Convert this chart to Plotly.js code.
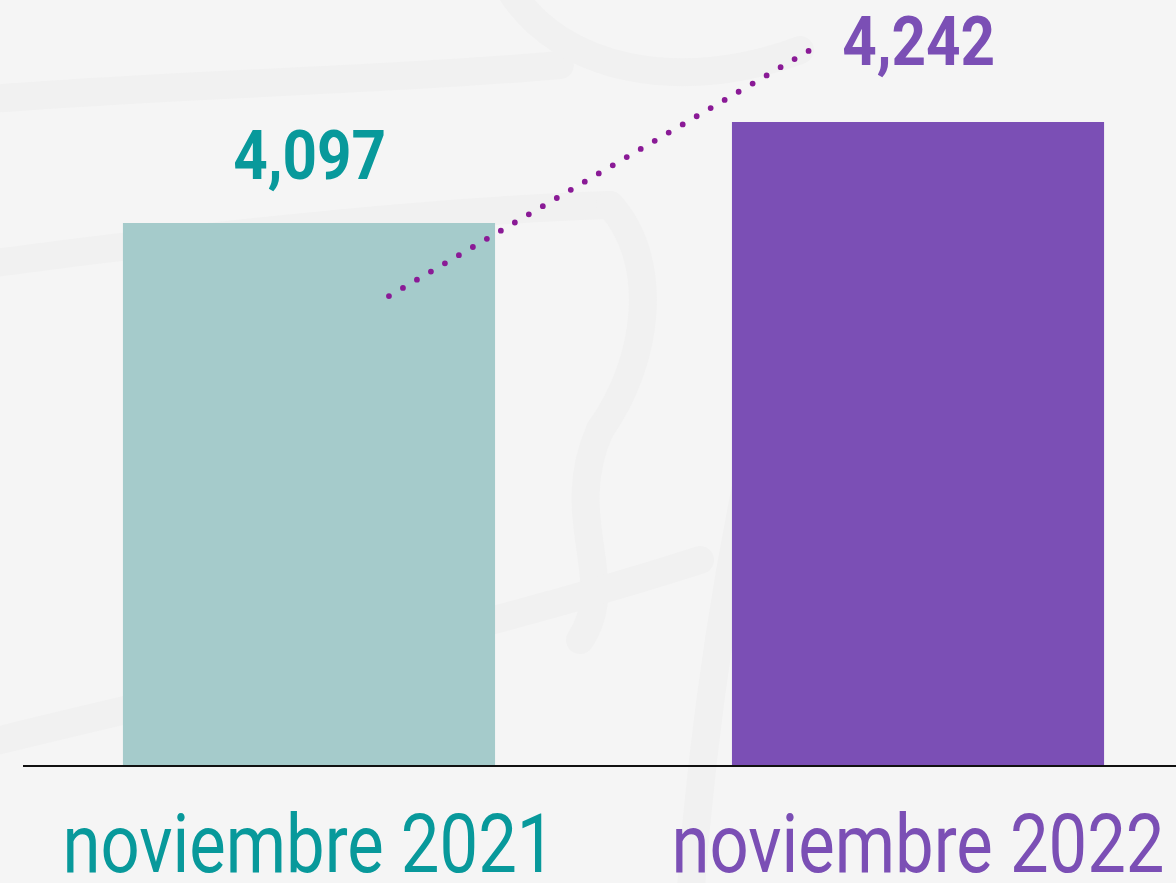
<!DOCTYPE html>
<html>
<head>
<meta charset="utf-8">
<script src="https://cdn.plot.ly/plotly-3.0.1.min.js"></script>
<style>
html,body{margin:0;padding:0;background:#f5f5f5;}
#chart{width:1176px;height:883px;}
.shapelayer path{stroke-linecap:round;}
</style>
</head>
<body>
<div id="chart"></div>
<script>
// ---- data ----
const periods = ["noviembre 2021", "noviembre 2022"];
const values = [4097, 4242];
const barColors = ["#a5cbcb", "#7b4fb5"];
const labelColors = ["#08999b", "#7b4fb5"];

const trace = {
  type: "bar",
  x: periods,
  y: values,
  width: 0.611,
  marker: {color: barColors, line: {width: 0}},
  hoverinfo: "skip"
};

const annotations = values.map((v, i) => ({
  x: periods[i],
  y: v,
  xref: "x",
  yref: "y",
  text: v.toLocaleString("en-US"),
  showarrow: false,
  yanchor: "bottom",
  yshift: i === 0 ? 25 : 38,
  font: {family: "Roboto", size: 69, color: labelColors[i], weight: 700}
}));

// faint decorative background strokes (page coordinates -> paper)
const W = 1153, H = 765, L = 23;
const px = x => ((x - L) / W).toFixed(4);
const py = y => ((H - y) / H).toFixed(4);
function pathFrom(pts) {
  let s = "M" + px(pts[0][0]) + "," + py(pts[0][1]);
  for (let i = 1; i < pts.length; i += 3) {
    s += " C" + [pts[i], pts[i + 1], pts[i + 2]].map(p => px(p[0]) + "," + py(p[1])).join(" ");
  }
  return s;
}
const swirls = [
  [[-20, 100], [150, 85], [400, 80], [560, 65]],
  [[510, -10], [560, 70], [680, 95], [800, 50]],
  [[-20, 265], [200, 235], [450, 210], [610, 205]],
  [[610, 205], [660, 260], [650, 360], [600, 430]],
  [[600, 430], [560, 520], [620, 580], [580, 640]],
  [[-20, 745], [200, 690], [450, 640], [700, 560]],
  [[760, 420], [720, 600], [700, 760], [690, 900]]
];
const bgShapes = swirls.map(p => ({
  type: "path",
  xref: "paper", yref: "paper",
  path: pathFrom(p),
  layer: "below",
  line: {color: "#f1f1f1", width: 28}
}));

const layout = {
  width: 1176,
  height: 883,
  margin: {l: 23, r: 0, t: 0, b: 118},
  paper_bgcolor: "#f5f5f5",
  plot_bgcolor: "rgba(0,0,0,0)",
  showlegend: false,
  bargap: 0.39,
  xaxis: {
    type: "category",
    range: [-0.4696, 1.4236],
    tickmode: "array",
    tickvals: periods,
    ticktext: periods.map((p, i) => '<span style="color:' + labelColors[i] + '">' + p + '</span>'),
    tickfont: {family: "Roboto", size: 82, color: "#08999b"},
    ticks: "",
    ticklabelstandoff: 7,
    showline: true,
    linecolor: "#111111",
    linewidth: 2,
    showgrid: false,
    zeroline: false,
    fixedrange: true
  },
  yaxis: {
    range: [3319, 4417],
    visible: false,
    showgrid: false,
    zeroline: false,
    fixedrange: true
  },
  annotations: annotations,
  shapes: bgShapes.concat([{
    type: "line",
    xref: "paper", yref: "paper",
    x0: 0.3174, y0: 0.613, x1: 0.6826, y1: 0.9346,
    line: {color: "#8a1a96", width: 5.8, dash: "0px,16.2px"}
  }])
};

Plotly.newPlot("chart", [trace], layout, {displayModeBar: false, staticPlot: true}).then(gd => {
  // condensed lettering like the original
  gd.querySelectorAll(".xtick text").forEach(t => {
    t.setAttribute("textLength", "493");
    t.setAttribute("lengthAdjust", "spacingAndGlyphs");
  });
  gd.querySelectorAll(".annotation-text").forEach(t => {
    t.setAttribute("textLength", "153");
    t.setAttribute("lengthAdjust", "spacingAndGlyphs");
  });
});
</script>
</body>
</html>
